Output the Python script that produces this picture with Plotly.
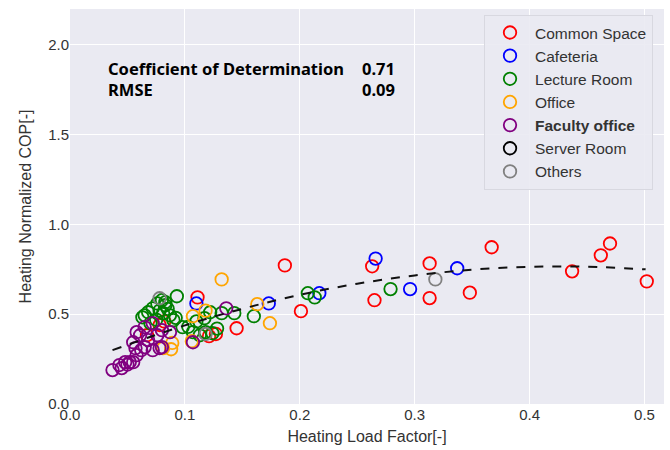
import plotly.graph_objects as go

# ---- data ----
common_x = [0.067, 0.078, 0.082, 0.111, 0.121, 0.127, 0.145, 0.187, 0.201, 0.263,
            0.265, 0.313, 0.313, 0.348, 0.367, 0.437, 0.462, 0.470, 0.502]
common_y = [0.383, 0.440, 0.460, 0.594, 0.378, 0.390, 0.422, 0.772, 0.517, 0.767,
            0.578, 0.783, 0.590, 0.620, 0.873, 0.739, 0.828, 0.894, 0.683]

cafe_x = [0.110, 0.173, 0.217, 0.266, 0.296, 0.337]
cafe_y = [0.560, 0.560, 0.617, 0.810, 0.640, 0.756]

lecture_x = [0.063, 0.065, 0.068, 0.072, 0.076, 0.080, 0.083, 0.093, 0.081, 0.087,
             0.090, 0.083, 0.098, 0.107, 0.113, 0.124, 0.117, 0.122, 0.132, 0.143,
             0.160, 0.207, 0.213, 0.279, 0.075, 0.070, 0.078, 0.085, 0.092, 0.103,
             0.118, 0.128, 0.110]
lecture_y = [0.483, 0.494, 0.511, 0.533, 0.560, 0.578, 0.550, 0.600, 0.506, 0.494,
             0.467, 0.567, 0.428, 0.400, 0.383, 0.394, 0.478, 0.511, 0.506, 0.506,
             0.489, 0.617, 0.594, 0.640, 0.470, 0.450, 0.520, 0.530, 0.480, 0.430,
             0.400, 0.420, 0.460]

office_x = [0.081, 0.088, 0.089, 0.106, 0.107, 0.132, 0.163, 0.174, 0.118]
office_y = [0.311, 0.305, 0.340, 0.350, 0.489, 0.694, 0.556, 0.450, 0.520]

faculty_x = [0.037, 0.043, 0.045, 0.048, 0.052, 0.055, 0.058, 0.057, 0.055, 0.061,
             0.058, 0.065, 0.068, 0.065, 0.072, 0.076, 0.080, 0.072, 0.078, 0.087,
             0.080, 0.107, 0.136, 0.050, 0.062]
faculty_y = [0.189, 0.217, 0.200, 0.233, 0.233, 0.233, 0.272, 0.311, 0.344, 0.383,
             0.400, 0.428, 0.356, 0.317, 0.300, 0.383, 0.411, 0.450, 0.311, 0.400,
             0.317, 0.344, 0.533, 0.220, 0.300]

server_x = []
server_y = []

others_x = [0.078, 0.118, 0.318]
others_y = [0.589, 0.390, 0.694]

fit_x = [0.037, 0.10, 0.15, 0.20, 0.25, 0.30, 0.35, 0.40, 0.45, 0.501]
fit_y = [0.300, 0.438, 0.530, 0.608, 0.670, 0.716, 0.748, 0.764, 0.765, 0.750]

stat_labels = ["Coefficient of Determination", "RMSE"]
stat_values = ["0.71", "0.09"]

series = [
    ("Common Space", common_x, common_y, "red"),
    ("Cafeteria", cafe_x, cafe_y, "#0000ff"),
    ("Lecture Room", lecture_x, lecture_y, "green"),
    ("Office", office_x, office_y, "orange"),
    ("<b>Faculty office</b>", faculty_x, faculty_y, "purple"),
    ("Server Room", server_x, server_y, "black"),
    ("Others", others_x, others_y, "gray"),
]

fig = go.Figure()
for name, xs, ys, col in series:
    fig.add_trace(go.Scatter(
        x=xs if xs else [None], y=ys if ys else [None], mode="markers", name=name,
        marker=dict(symbol="circle-open", size=12.5, color=col, line=dict(width=1.8, color=col)),
    ))

fig.add_trace(go.Scatter(
    x=fit_x, y=fit_y, mode="lines", line=dict(color="#111111", dash="dash", width=2, shape="spline"),
    showlegend=False, hoverinfo="skip",
))

font_main = "Liberation Sans, Arial, sans-serif"
font_anno = "Noto Sans, sans-serif"
fig.add_annotation(x=0.031, y=1.81, xref="x", yref="y",
                   text="<br>".join(f"<b>{s}</b>" for s in stat_labels),
                   showarrow=False, xanchor="left", yanchor="middle", align="left",
                   font=dict(size=16.5, color="black", family=font_anno))
fig.add_annotation(x=0.285, y=1.81, xref="x", yref="y",
                   text="<br>".join(f"<b>{s}</b>" for s in stat_values),
                   showarrow=False, xanchor="right", yanchor="middle", align="right",
                   font=dict(size=16.5, color="black", family=font_anno))

fig.update_layout(
    width=670, height=450,
    margin=dict(l=70, r=6, t=9, b=46),
    paper_bgcolor="white", plot_bgcolor="#EAEAF2",
    font=dict(family=font_main, size=15, color="#333333"),
    legend=dict(x=0.697, y=0.985, xanchor="left", yanchor="top",
                bgcolor="rgba(234,234,242,0.9)", bordercolor="#d8d8e0", borderwidth=1,
                font=dict(size=15.5, color="#333333"), tracegroupgap=0, itemwidth=40),
    showlegend=True,
)
fig.update_xaxes(range=[0, 0.517], dtick=0.1, tickformat=".1f", showgrid=True, gridcolor="white",
                 gridwidth=1.2, zeroline=False, showline=False, ticks="", ticklen=0,
                 title=dict(text="Heating Load Factor[-]", font=dict(size=16), standoff=8))
fig.update_yaxes(range=[0, 2.2], dtick=0.5, tickformat=".1f", showgrid=True, gridcolor="white",
                 gridwidth=1.2, zeroline=False, showline=False, ticks="",
                 title=dict(text="Heating Normalized COP[-]", font=dict(size=16), standoff=12))

fig.write_html("out.html")
